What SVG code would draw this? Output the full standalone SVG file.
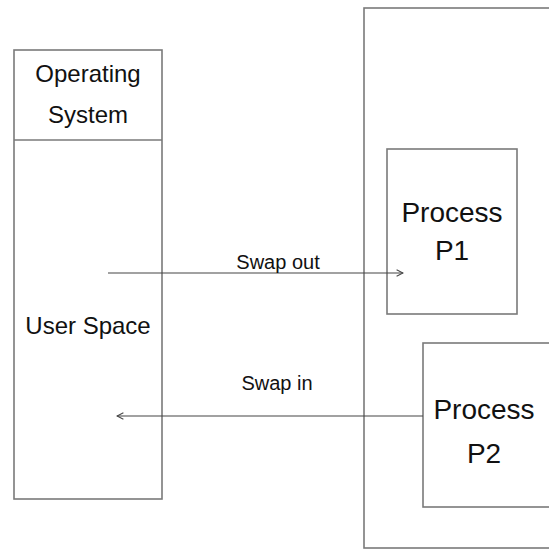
<svg xmlns="http://www.w3.org/2000/svg" width="549" height="550" viewBox="0 0 549 550">
<defs>
<style>
.box{fill:#ffffff;stroke:#7a7a7a;stroke-width:1.6}
.t{font-family:"Liberation Sans",Arial,sans-serif;fill:#111;text-anchor:middle}
.conn{stroke:#444;stroke-width:1.2;fill:none}
</style>
<marker id="arr" viewBox="0 0 10 10" refX="9" refY="5" markerWidth="8" markerHeight="8" markerUnits="userSpaceOnUse" orient="auto-start-reverse">
<path d="M1,1 L9,5 L1,9" fill="none" stroke="#444" stroke-width="1.3"/>
</marker>
</defs>
<rect width="549" height="550" fill="#ffffff"/>
<g id="memory">
<rect class="box" x="364" y="8" width="200" height="540"/>
</g>
<g id="os-box">
<rect class="box" x="14" y="50" width="148" height="449"/>
<line x1="14" y1="140" x2="162" y2="140" stroke="#7a7a7a" stroke-width="1.6"/>
<text class="t" x="88" y="82" font-size="24">Operating</text>
<text class="t" x="88" y="123" font-size="24">System</text>
<text class="t" x="88" y="334" font-size="24">User Space</text>
</g>
<g id="p1">
<rect class="box" x="387" y="149" width="130" height="165"/>
<text class="t" x="452" y="222" font-size="28">Process</text>
<text class="t" x="452" y="260" font-size="28">P1</text>
</g>
<g id="p2">
<rect class="box" x="423" y="343" width="140" height="164"/>
<text class="t" x="484" y="419" font-size="28">Process</text>
<text class="t" x="484" y="463" font-size="28">P2</text>
</g>
<g id="connectors">
<line class="conn" x1="108" y1="273" x2="403" y2="273" marker-end="url(#arr)"/>
<text class="t" x="278" y="269" font-size="20">Swap out</text>
<line class="conn" x1="423" y1="416" x2="117" y2="416" marker-end="url(#arr)"/>
<text class="t" x="277" y="390" font-size="20">Swap in</text>
</g>
</svg>
